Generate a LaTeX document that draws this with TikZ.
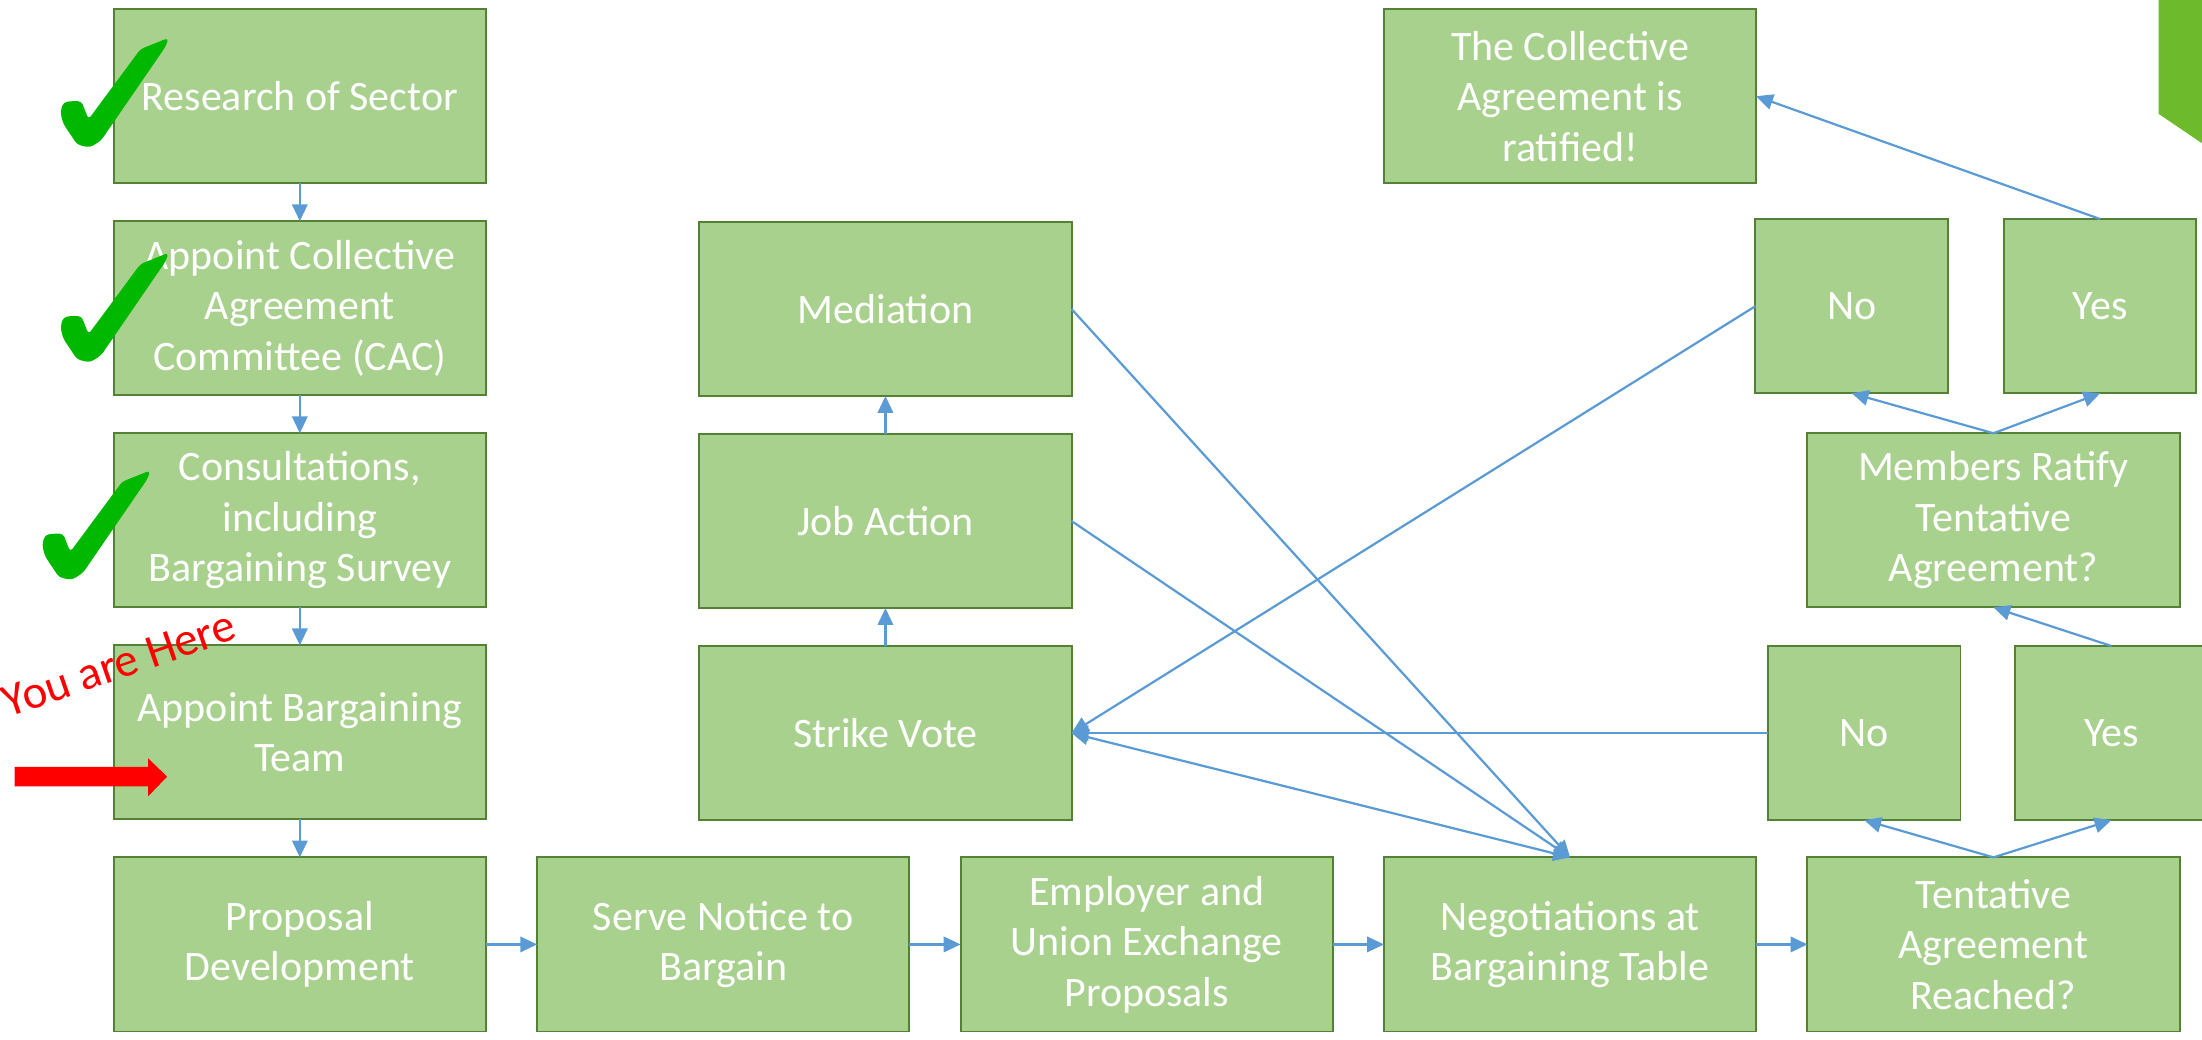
\documentclass[tikz,border=0pt]{standalone}
\usepackage{fontspec}
\setmainfont{Carlito}
\usetikzlibrary{positioning,arrows.meta}

\definecolor{boxfill}{HTML}{A9D18E}
\definecolor{boxline}{HTML}{538135}
\definecolor{flowblue}{HTML}{5B9BD5}
\definecolor{tickgreen}{HTML}{00B800}
\definecolor{cornergreen}{HTML}{6DBB2C}
\newcommand\stagefont{\fontsize{17}{20.5}\selectfont}

\begin{document}
\begin{tikzpicture}[node distance=0.54cm and 0.73cm,
  stage/.style={rectangle,draw=boxline,fill=boxfill,line width=0.8pt,text=white,
    minimum width=5.3cm,minimum height=2.48cm,align=center,font=\stagefont,
    inner sep=0pt,outer sep=0pt},
  choice/.style={stage,minimum width=2.74cm},
  tip/.style={Triangle[length=0.24cm,width=0.22cm]},
  flow/.style={draw=flowblue,line width=0.9pt,-{Triangle[length=0.24cm,width=0.22cm]}},
  both/.style={draw=flowblue,line width=0.9pt,
    {Triangle[length=0.24cm,width=0.22cm]}-{Triangle[length=0.24cm,width=0.22cm]}}]

  \useasboundingbox (0,0) rectangle (31.36,-14.8);

  % left column
  \node[stage] (research) at (4.27,-1.37) {Research of Sector};
  \node[stage] (cac) [below=of research] {Appoint Collective\\Agreement\\Committee (CAC)};
  \node[stage] (consult) [below=of cac] {Consultations,\\including\\Bargaining Survey};
  \node[stage] (appoint) [below=of consult] {Appoint Bargaining\\Team};

  % bottom row
  \node[stage] (proposal) [below=of appoint] {Proposal\\Development};
  \node[stage] (serve) [right=of proposal] {Serve Notice to\\Bargain};
  \node[stage] (exchange) [right=of serve] {Employer and\\Union Exchange\\Proposals};
  \node[stage] (negotiate) [right=of exchange] {Negotiations at\\Bargaining Table};
  \node[stage] (tentative) [right=of negotiate] {Tentative\\Agreement\\Reached?};

  % middle column
  \node[stage] (strike) at (12.61,-10.44) {Strike Vote};
  \node[stage] (job) [above=of strike] {Job Action};
  \node[stage] (mediation) [above=of job] {Mediation};

  % right side
  \node[stage] (ratified) at (negotiate |- research) {The Collective\\Agreement is\\ratified!};
  \node[stage] (members) at (tentative |- consult) {Members Ratify\\Tentative\\Agreement?};
  \node[choice] (no2) at (26.55,-10.44) {No};
  \node[choice] (yes2) [right=0.78cm of no2] {Yes};
  \node[choice] (no1) at (26.37,-4.36) {No};
  \node[choice] (yes1) [right=0.8cm of no1] {Yes};

  \path[every edge/.style=flow]
  (research) edge (cac)
  (cac) edge (consult)
  (consult) edge (appoint)
  (appoint) edge (proposal)
  (proposal) edge (serve)
  (serve) edge (exchange)
  (exchange) edge (negotiate)
  (negotiate) edge (tentative)
  (tentative.north) edge (no2.south)
  (tentative.north) edge (yes2.south)
  (yes2.north) edge (members.south)
  (members.north) edge (no1.south)
  (members.north) edge (yes1.south)
  (yes1.north) edge (ratified.east)
  (no1.west) edge (strike.east)
  (no2.west) edge (strike.east)
  (strike.north) edge (job.south)
  (job.north) edge (mediation.south)
  (mediation.east) edge (negotiate.north)
  (job.east) edge (negotiate.north);
  \draw[both] (strike.east) -- (negotiate.north);

  % check marks
  \foreach \cx/\cy in {0.86/-0.54, 0.86/-3.6, 0.6/-6.7}
    \fill[tickgreen,rounded corners=1.5pt,shift={(\cx,\cy)},x=0.02cm,y=-0.02cm]
      (0,53) -- (2,46) -- (7,45) -- (15,45) -- (20,58) -- (57,8) -- (77,0)
      -- (75,6) -- (29,73) -- (21,78) -- (12,76) -- (2,61) -- cycle;

  % you are here
  \node[text=red,font=\fontsize{19}{22}\selectfont,rotate=19,anchor=base west,inner sep=0pt]
    (here) at (0.12,-10.22) {You are Here};
  \fill[red] (0.21,-10.92) -- (2.11,-10.92) -- (2.11,-10.80) -- (2.38,-11.06)
    -- (2.11,-11.34) -- (2.11,-11.20) -- (0.21,-11.20) -- cycle;

  % corner shape
  \fill[cornergreen] (30.74,0) -- (30.74,-1.62) -- (31.36,-2.04) -- (31.36,0) -- cycle;
\end{tikzpicture}
\end{document}
